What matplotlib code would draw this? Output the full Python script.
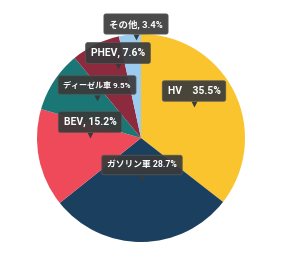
import matplotlib.pyplot as plt

plt.rcParams['font.family'] = ['Roboto', 'Noto Sans CJK JP', 'DejaVu Sans']

labels = ['HV', 'ガソリン車', 'BEV', 'ディーゼル車', 'PHEV', 'その他']
shares = [35.5, 28.7, 15.2, 9.5, 7.6, 3.4]
texts = ['HV    35.5%', 'ガソリン車 28.7%', 'BEV, 15.2%', 'ディーゼル車 9.5%', 'PHEV, 7.6%', 'その他, 3.4%']
colors = ['#FAC42E', '#1B405F', '#EE4A59', '#1A7776', '#8D2A3E', '#9BCBEE']

# tooltip centres in pixel coords (x, y from top)
label_pos = [(194, 91), (142, 165), (90, 122), (97, 85), (118, 53), (136, 24)]
label_size = [7.5, 6.3, 7.5, 5.8, 7.5, 6.8]

W, H = 282, 258
fig = plt.figure(figsize=(W / 100, H / 100), dpi=100)
ax = fig.add_axes([0, 0, 1, 1])

ax.pie(shares, colors=colors, startangle=90, counterclock=False,
       center=(141, H - 138), radius=104, frame=True,
       wedgeprops=dict(linewidth=0))
ax.set_xlim(0, W)
ax.set_ylim(0, H)
ax.set_aspect('equal')
ax.axis('off')

for t, (x, y), fs in zip(texts, label_pos, label_size):
    yy = H - y
    k = 7.5 / fs  # keep same box padding in pixels
    ax.text(x, yy, t, ha='center', va='center', fontsize=fs, color='white',
            fontweight='bold',
            bbox=dict(boxstyle=f'round,pad={0.5 * k:.2f},rounding_size={0.2 * k:.2f}',
                      fc='#3a3a3a', ec='#555555', lw=0.6, alpha=0.92))
    ax.plot(x, yy - 12.5, marker='v', ms=4, color='#3a3a3a', mec='none')

fig.savefig('out.png', dpi=100)
